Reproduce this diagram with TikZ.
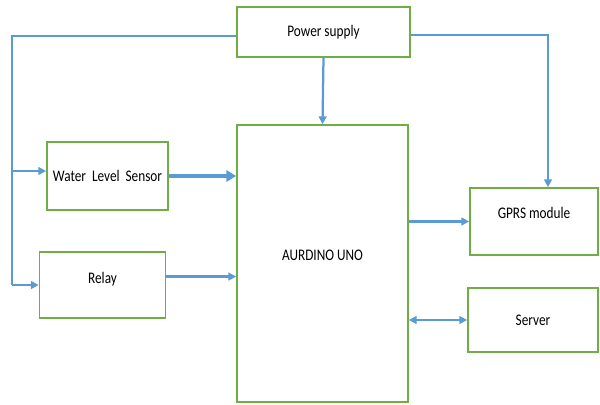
\documentclass[tikz,border=0pt]{standalone}
\usepackage{fontspec}
\setmainfont{Carlito}[FakeStretch=0.82]
\usepackage{xcolor}
\usetikzlibrary{arrows.meta}

\definecolor{boxgreen}{RGB}{112,173,71}
\definecolor{wireblue}{RGB}{91,155,213}

\begin{document}
\begin{tikzpicture}[
    x=0.025cm, y=-0.025cm,
    font=\fontsize{11.5}{13}\selectfont,
    >={Triangle[length=5.5pt,width=5.5pt]},
    block/.style={draw=boxgreen, line width=1.2pt, fill=white, align=center},
    wire/.style={wireblue, line width=1.6pt},
    feed/.style={->, wireblue, line width=1.6pt},
    bigfeed/.style={->, wireblue, line width=2.8pt, >={Triangle[length=7pt,width=8pt]}},
    link/.style={<->, wireblue, line width=1.6pt}
  ]
    \useasboundingbox (0,0) rectangle (600,404);

    \node[block, minimum width=173*0.025cm, minimum height=50*0.025cm] (power) at (323.5,32) {Power supply};
    \node[block, minimum width=171*0.025cm, minimum height=277*0.025cm, text depth=12pt] (arduino) at (322.5,263.5) {AURDINO UNO};
    \node[block, minimum width=121*0.025cm, minimum height=68*0.025cm] (sensor) at (107.5,176) {Water\ \ Level\ \ Sensor};
    \node[block, minimum width=126*0.025cm, minimum height=66*0.025cm] (relay) at (102.5,285) {Relay\\[-3pt]};
    \node[block, minimum width=128*0.025cm, minimum height=67*0.025cm] (gprs) at (534,221.5) {GPRS module\\[-1pt]};
    \node[block, minimum width=130*0.025cm, minimum height=64*0.025cm] (server) at (533,320) {Server};

    \coordinate (lbus) at (12,0);
    \coordinate (rbus) at (548,0);

    % supply lines
    \draw[wire] ([yshift=-3pt]power.west) -| (lbus |- relay.west);
    \draw[feed] (lbus |- sensor.west) ++(0,-5) -- ([yshift=5*0.025cm]sensor.west);
    \draw[feed] (lbus |- relay.west) -- (relay.west);
    \draw[feed] ([yshift=-2pt]power.east) -| (rbus |- gprs.north);
    \draw[feed] (power.south) -- (arduino.north);

    % signals
    \draw[bigfeed] (sensor.east) -- (sensor.east -| arduino.west);
    \draw[feed] ([yshift=6pt]relay.east) -- ([yshift=6pt]relay.east -| arduino.west);
    \draw[feed] (gprs.west -| arduino.east) -- (gprs.west);
    \draw[link] (server.west -| arduino.east) -- (server.west);
\end{tikzpicture}
\end{document}
